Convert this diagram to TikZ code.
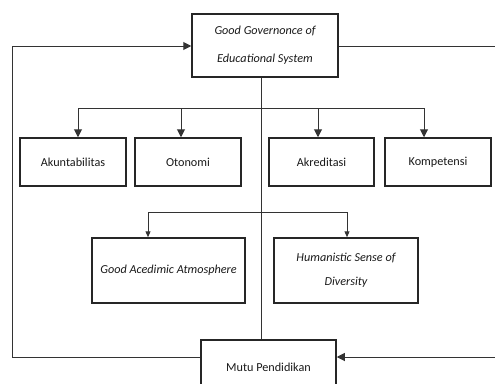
\documentclass[tikz,border=0pt]{standalone}
\usepackage{fontspec}
\setmainfont{Carlito}
\usetikzlibrary{arrows.meta}
\begin{document}
\begin{tikzpicture}[x=1pt,y=-1pt,
  box/.style={draw=black!85,line width=1.5pt,rectangle,inner sep=0pt,align=center,text=black!90,font=\fontsize{12.2}{17}\selectfont},
  conn/.style={draw=black!80,line width=1pt},
  bigtip/.style={-{Triangle[width=8pt,length=8pt]}},
  smalltip/.style={-{Triangle[width=5pt,length=6pt]}}]
\useasboundingbox (0,0) rectangle (495,383);
\node[box,minimum width=146pt,minimum height=63pt,font=\fontsize{12.2}{28}\selectfont\itshape] (gg) at (265,45.5) {Good Governonce of\\Educational System};
\node[box,minimum width=106pt,minimum height=48pt] (ak) at (73,162) {Akuntabilitas};
\node[box,minimum width=106pt,minimum height=48pt] (ot) at (188,162) {Otonomi};
\node[box,minimum width=105pt,minimum height=48pt] (ar) at (321.5,162) {Akreditasi};
\node[box,minimum width=106pt,minimum height=48pt] (ko) at (438,162) {Kompetensi};
\node[box,minimum width=153pt,minimum height=65pt,font=\fontsize{12.2}{17}\selectfont\itshape] (ga) at (168.5,270.5) {Good Acedimic Atmosphere};
\node[box,minimum width=144pt,minimum height=65pt,font=\fontsize{12.2}{24}\selectfont\itshape] (hu) at (346,270.5) {Humanistic Sense of\\Diversity};
\node[box,minimum width=135pt,minimum height=54pt] (mp) at (268.5,367) {Mutu Pendidikan};
% trunk
\coordinate (t) at (261,0);
\draw[conn] (t |- gg.south) -- (t |- mp.north);
% first level distribution
\coordinate (d1) at (78,108);
\coordinate (d2) at (181,108);
\coordinate (d3) at (318,108);
\coordinate (d4) at (424,108);
\draw[conn] (d1) -- (d4);
\draw[conn,bigtip] (d1) -- (d1 |- ak.north);
\draw[conn,bigtip] (d2) -- (d2 |- ot.north);
\draw[conn,bigtip] (d3) -- (d3 |- ar.north);
\draw[conn,bigtip] (d4) -- (d4 |- ko.north);
% second level distribution
\coordinate (e1) at (148,212);
\coordinate (e2) at (347,212);
\draw[conn] (e1) -- (e2);
\draw[conn,smalltip] (e1) -- (e1 |- ga.north);
\draw[conn,smalltip] (e2) -- (e2 |- hu.north);
% feedback loops
\coordinate (l1) at (12,357);
\coordinate (l2) at (12,46);
\draw[conn,bigtip] (mp.west |- l1) -- (l1) -- (l2) -- (l2 -| gg.west);
\coordinate (r1) at (498,46);
\coordinate (r2) at (498,357);
\draw[conn,bigtip] (gg.east |- r1) -- (r1) -- (r2) -- (r2 -| mp.east);
\end{tikzpicture}
\end{document}
